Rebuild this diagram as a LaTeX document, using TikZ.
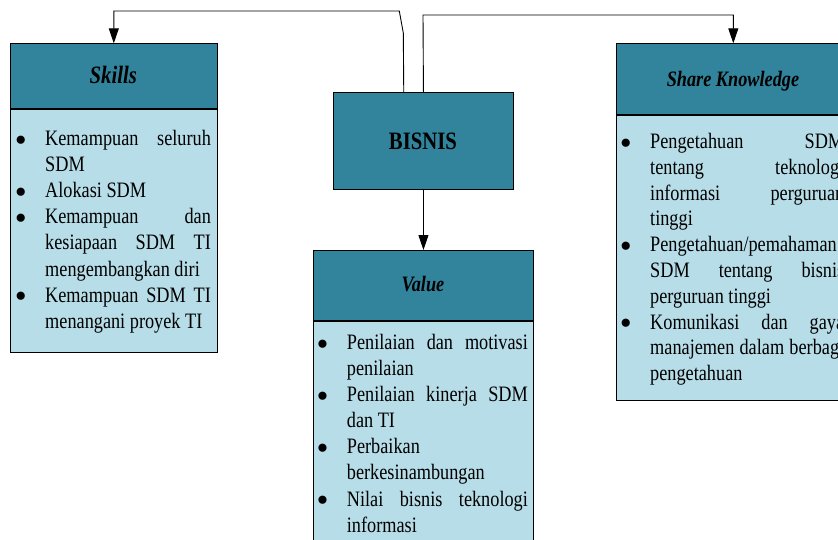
\documentclass[tikz,border=0pt]{standalone}
\usepackage{fontspec}
\setmainfont{Liberation Serif}[FakeStretch=0.83]
\newfontfamily\bulfont{Liberation Serif}
\usetikzlibrary{arrows.meta}

\definecolor{headteal}{HTML}{31849B}
\definecolor{bodyblue}{HTML}{B7DDE8}

% list width, a justified line, a ragged (last) line, and a hanging bullet
\newlength\lw
\newcommand\jline[1]{\makebox[\lw][s]{\strut#1}\par}
\newcommand\lline[1]{\noindent\strut#1\par}
\newcommand\bul{\llap{\makebox[24.3pt][l]{\makebox[0pt][c]{\raisebox{-5.8pt}{\scalebox{1.55}{\bulfont •}}}}}}
\newcommand\listsetup[1]{\setlength\lw{#1}\spaceskip=4.56pt plus 30pt minus 1pt\relax}

\begin{document}
\begin{tikzpicture}[x=1pt,y=-1pt,
  headbox/.style={draw=black, line width=0.9pt, fill=headteal, inner sep=0pt, anchor=north west},
  bodybox/.style={draw=black, line width=0.9pt, fill=bodyblue, inner sep=0pt, anchor=north west},
  headtext/.style={inner sep=0pt, anchor=base, font=\bfseries\itshape\fontsize{22}{26}\selectfont},
  itemlist/.style={inner sep=0pt, anchor=north west, font=\fontsize{22}{26.1}\selectfont},
  conn/.style={draw=black, line width=0.9pt},
  arrowed/.style={-{Triangle[length=15pt,width=10pt]}}
]
\useasboundingbox (0,0) rectangle (838,539);
\clip (0,0) rectangle (838,539);

% Skills
\node[headbox, minimum width=206.7pt, minimum height=64.7pt] (skillshead) at (10,43.3) {};
\node[bodybox, minimum width=206.7pt, minimum height=243pt] (skillsbody) at (skillshead.south west) {};
\node[headtext, font=\bfseries\itshape\fontsize{25}{30}\selectfont] (skillstitle) at (113.3,83.3) {Skills};
\node[itemlist, text width=165.7pt] (skillslist) at (45,127.1) {%
\listsetup{165.7pt}%
\jline{\bul Kemampuan seluruh}
\lline{SDM}
\lline{\bul Alokasi SDM}
\jline{\bul Kemampuan dan}
\jline{kesiapaan SDM TI}
\lline{mengembangkan diri}
\jline{\bul Kemampuan SDM TI}
\lline{menangani proyek TI}};

% BISNIS
\node[headbox, minimum width=180pt, minimum height=97pt] (bisnis) at (333,92) {};
\node[headtext, font=\bfseries\fontsize{25}{30}\selectfont] (bisnistitle) at (423,149.3) {BISNIS};

% Value
\node[headbox, minimum width=220.6pt, minimum height=70pt] (valuehead) at (312.7,250) {};
\node[bodybox, minimum width=220.6pt, minimum height=260pt] (valuebody) at (valuehead.south west) {};
\node[headtext] (valuetitle) at (423,291.7) {Value};
\node[itemlist, text width=181pt] (valuelist) at (346.7,331.0) {%
\listsetup{181pt}%
\jline{\bul Penilaian dan motivasi}
\lline{penilaian}
\jline{\bul Penilaian kinerja SDM}
\lline{dan TI}
\lline{\bul Perbaikan}
\lline{berkesinambungan}
\jline{\bul Nilai bisnis teknologi}
\lline{informasi}};

% Share Knowledge
\node[headbox, minimum width=234.3pt, minimum height=71pt] (sharehead) at (615.7,43.3) {};
\node[bodybox, minimum width=234.3pt, minimum height=285pt] (sharebody) at (sharehead.south west) {};
\node[headtext] (sharetitle) at (733,86) {Share Knowledge};
\node[itemlist, text width=194pt, font=\fontsize{22}{25.8}\selectfont] (sharelist) at (650,130.24) {%
\listsetup{194pt}%
\jline{\bul Pengetahuan SDM}
\jline{tentang teknologi}
\jline{informasi perguruan}
\lline{tinggi}
\lline{\bul Pengetahuan/pemahaman}
\jline{SDM tentang bisnis}
\lline{perguruan tinggi}
\jline{\bul Komunikasi dan gaya}
\jline{manajemen dalam berbagi}
\lline{pengetahuan}};

% connectors
\draw[conn, arrowed] ([xshift=-19.7pt]bisnis.north) -- (403.3,33) -- (399.3,11) -| (skillshead.north);
\draw[conn, arrowed] (bisnis.north) -- (423,15) -| (sharehead.north);
\draw[conn, arrowed] (bisnis.south) -- (valuehead.north);
\end{tikzpicture}
\end{document}
